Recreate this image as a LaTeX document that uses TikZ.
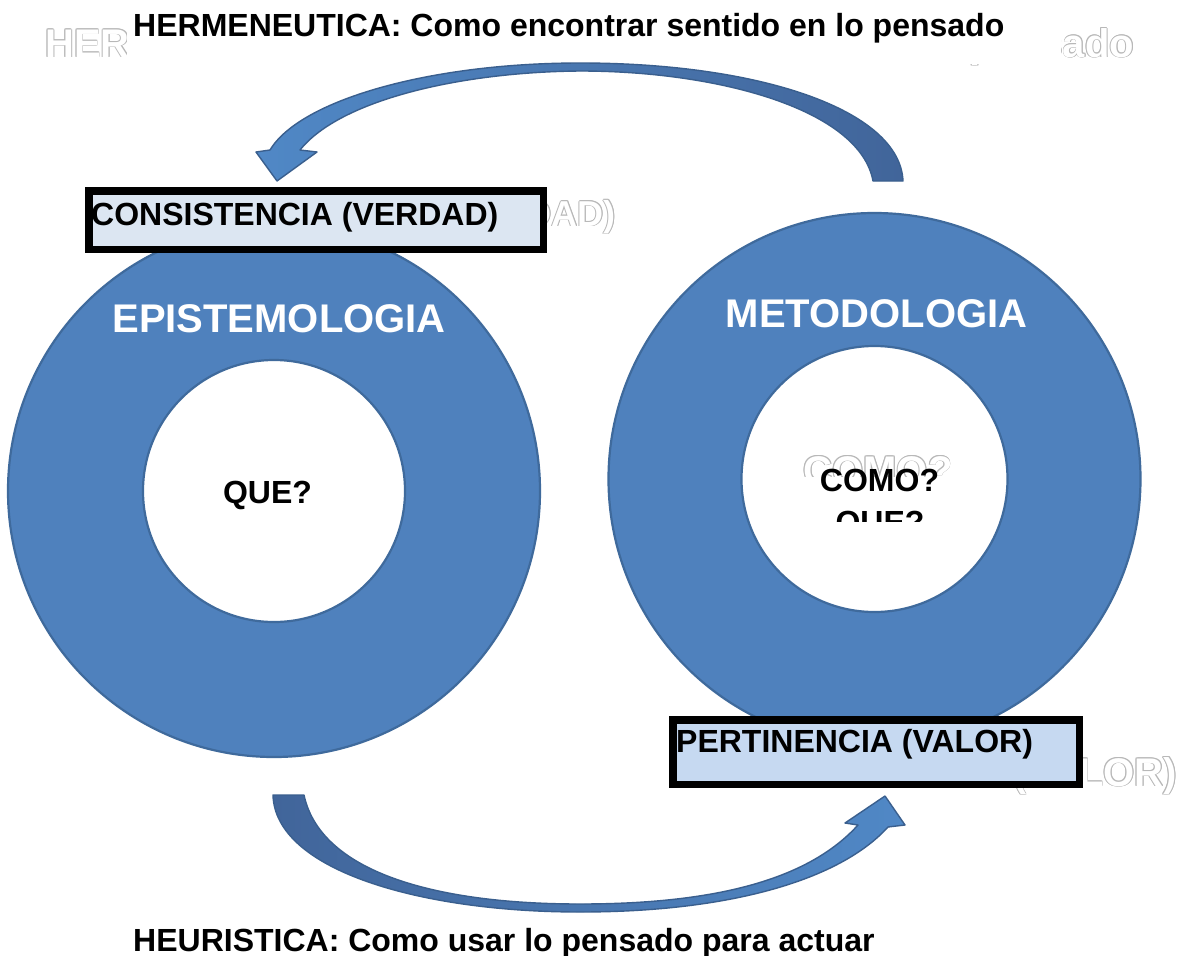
\documentclass[tikz,border=0pt]{standalone}
\usepackage{fontspec}
\setmainfont{Liberation Sans}
\definecolor{ringblue}{HTML}{4F81BD}
\definecolor{ringline}{HTML}{3F6A9C}
\definecolor{arrowlight}{HTML}{5088C6}
\definecolor{arrowdark}{HTML}{41659A}
\definecolor{arrowline}{HTML}{3A5F8E}
\definecolor{boxfillA}{HTML}{DCE6F2}
\definecolor{boxfillB}{HTML}{C6D9F1}
\definecolor{ghostline}{gray}{0.72}
\tikzset{
  txt/.style={inner sep=0pt, font=\fontsize{32}{38}\selectfont\bfseries},
  bigtxt/.style={inner sep=0pt, text=white, font=\fontsize{40}{48}\selectfont\bfseries},
  ring/.style={fill=ringblue, draw=ringline, line width=2.2pt, even odd rule},
  labelbox/.style={draw=black, line width=7.5pt},
  arrowshape/.style={draw=arrowline, line width=1.4pt, line join=round},
}
\newcommand\ghosttext[5]{% #1 name, #2 point, #3 anchor, #4 size, #5 text
  \foreach \gx/\gy in {-0.9/0,0.9/0,0/-0.9,0/0.9,-0.65/-0.65,0.65/0.65,-0.65/0.65,0.65/-0.65}{%
    \node[inner sep=0pt,anchor=#3,text=ghostline,font=\fontsize{#4}{#4}\selectfont\bfseries]
      at ([shift={(\gx pt,\gy pt)}]#2) {#5};}
  \node[inner sep=0pt,anchor=#3,text=white,font=\fontsize{#4}{#4}\selectfont\bfseries] (#1) at (#2) {#5};
}
\begin{document}
\begin{tikzpicture}[x=1pt,y=-1pt]
\useasboundingbox (0,0) rectangle (1179,956);
\fill[white] (0,0) rectangle (1179,956);

% ghost of the title, mostly hidden
\ghosttext{gtitle}{45,57}{base west}{40}{HERMENEUTICA: Como encontrar sentido en lo pensado}
\fill[white] (127,0) rectangle (1061,64);

% rings
\path[ring] (274,491) circle[radius=266pt] (274,491) circle[radius=131pt];
\path[ring] (874.5,479) circle[radius=266pt] (874.5,479) circle[radius=133pt];

% ghost texts behind the boxes
\ghosttext{gcons}{616,226}{base east}{36}{CONSISTENCIA (VERDAD)}
\ghosttext{gpert}{1177,786}{base east}{40}{PERTINENCIA (VALOR)}

% boxes
\draw[labelbox, fill=boxfillA] (88.75,190.75) rectangle (543.25,249.25);
\draw[labelbox, fill=boxfillB] (672.75,719.75) rectangle (1079.25,784.25);
\node[txt, anchor=base west] (cons) at (91,225) {CONSISTENCIA (VERDAD)};
\node[txt, anchor=base west] (pert) at (676,752) {PERTINENCIA (VALOR)};

% ring titles
\node[bigtxt, anchor=base] (epi) at (279,332) {EPISTEMOLOGIA};
\node[bigtxt, anchor=base] (meto) at (876.5,327) {METODOLOGIA};

% inner texts
\node[txt, anchor=base] (que) at (267.5,503) {QUE?};
\ghosttext{gcomo}{878,484}{base}{40}{COMO?}
\fill[white] (798,477) rectangle (958,522);
\node[txt, anchor=base] (como) at (879.5,491) {COMO?};
\begin{scope}
  \clip (790,440) rectangle (970,521);
  \node[txt, anchor=base] (que2) at (880,533) {QUE?};
\end{scope}

% top curved arrow (hermeneutica)
\path[arrowshape, left color=arrowlight, right color=arrowdark]
  (903,181) .. controls (900,110) and (760,63) .. (580,63)
  .. controls (430,63) and (300,100) .. (270,150)
  -- (256,152) -- (277,181) -- (317,152) -- (300,150)
  .. controls (340,100) and (460,72) .. (580,71)
  .. controls (720,71) and (860,110) .. (873,181) -- cycle;

% bottom curved arrow (heuristica)
\path[arrowshape, left color=arrowdark, right color=arrowlight]
  (273,795) .. controls (275,870) and (420,912) .. (580,912)
  .. controls (730,912) and (840,880) .. (888,827)
  -- (905,825) -- (885,796) -- (845,823) -- (858,825)
  .. controls (810,878) and (720,904) .. (580,904)
  .. controls (430,904) and (320,870) .. (304,795) -- cycle;

% captions
\node[txt, anchor=base west] (title) at (133,36) {HERMENEUTICA: Como encontrar sentido en lo pensado};
\node[txt, anchor=base west] (heur) at (133,951) {HEURISTICA: Como usar lo pensado para actuar};
\end{tikzpicture}
\end{document}
